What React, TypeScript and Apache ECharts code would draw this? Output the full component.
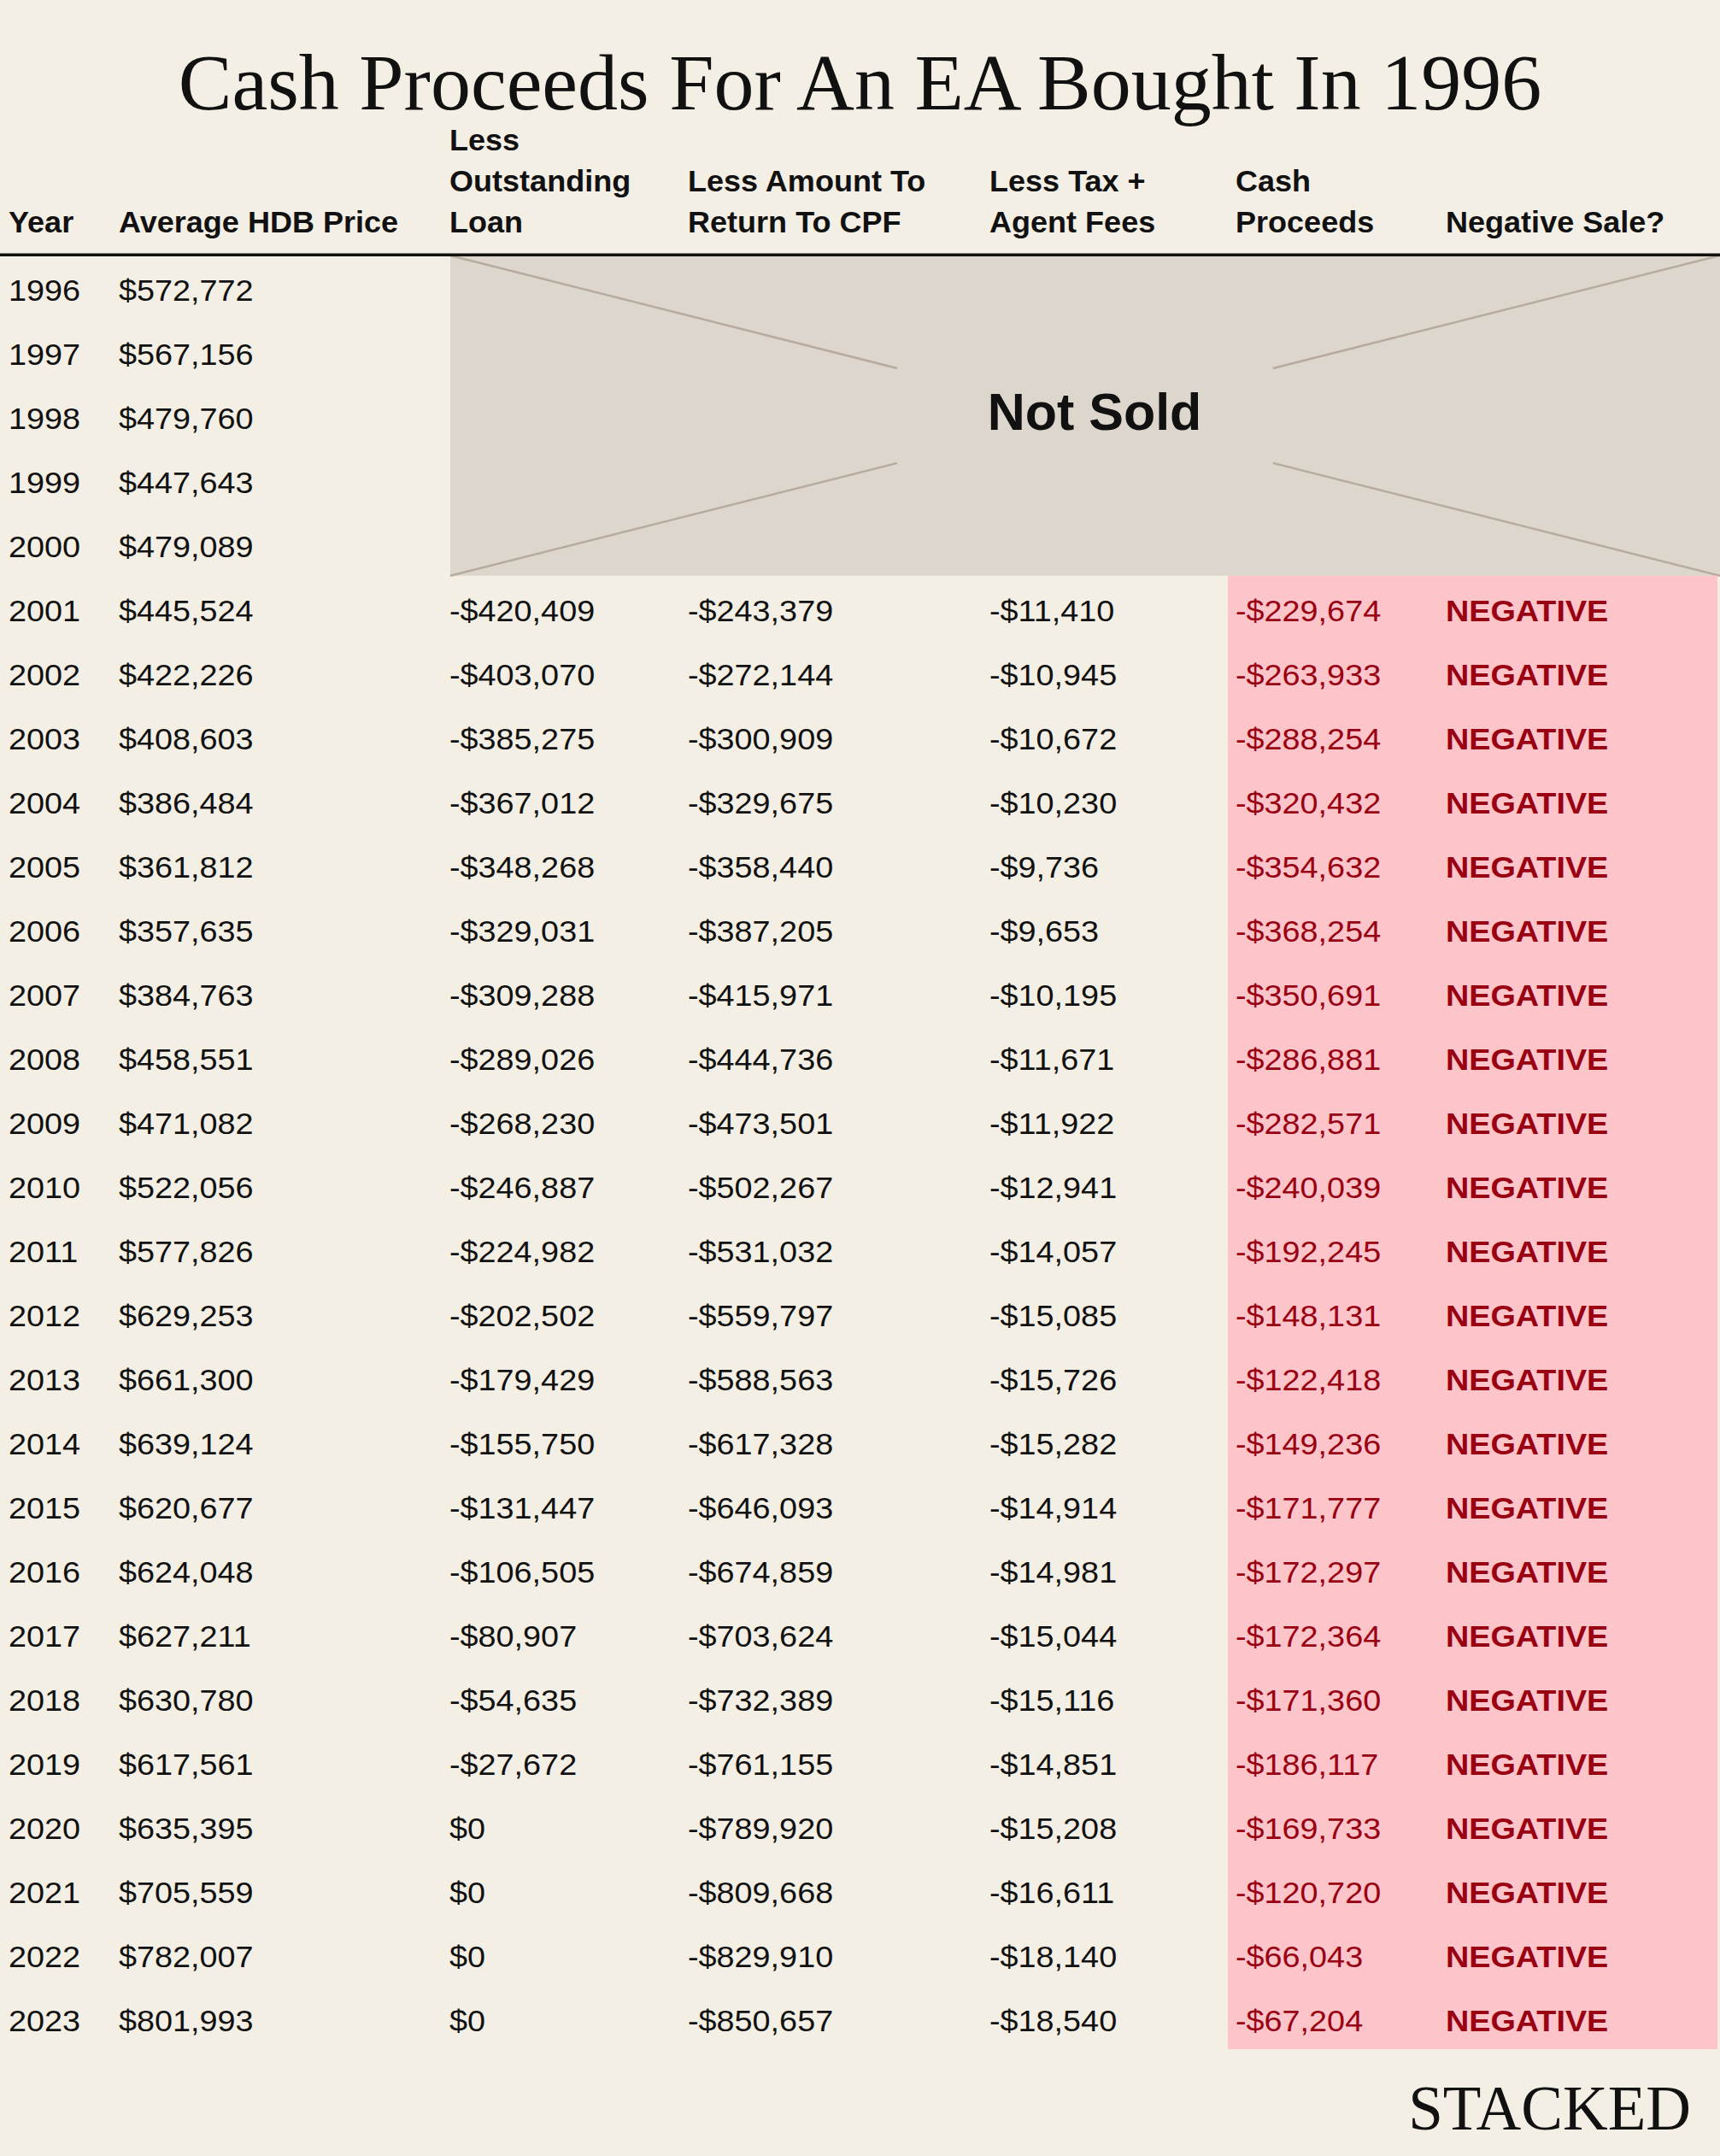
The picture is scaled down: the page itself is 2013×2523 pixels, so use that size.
import React, { useEffect, useRef } from 'react';
import * as echarts from 'echarts';

// ---------- data ----------
const years = ['1996','1997','1998','1999','2000','2001','2002','2003','2004','2005','2006','2007','2008','2009','2010','2011','2012','2013','2014','2015','2016','2017','2018','2019','2020','2021','2022','2023'];
const avgHdbPrice = [572772,567156,479760,447643,479089,445524,422226,408603,386484,361812,357635,384763,458551,471082,522056,577826,629253,661300,639124,620677,624048,627211,630780,617561,635395,705559,782007,801993];
// null = not sold in that year
const outstandingLoan = [null,null,null,null,null,-420409,-403070,-385275,-367012,-348268,-329031,-309288,-289026,-268230,-246887,-224982,-202502,-179429,-155750,-131447,-106505,-80907,-54635,-27672,0,0,0,0];
const returnToCpf = [null,null,null,null,null,-243379,-272144,-300909,-329675,-358440,-387205,-415971,-444736,-473501,-502267,-531032,-559797,-588563,-617328,-646093,-674859,-703624,-732389,-761155,-789920,-809668,-829910,-850657];
const taxAgentFees = [null,null,null,null,null,-11410,-10945,-10672,-10230,-9736,-9653,-10195,-11671,-11922,-12941,-14057,-15085,-15726,-15282,-14914,-14981,-15044,-15116,-14851,-15208,-16611,-18140,-18540];
const cashProceeds = [null,null,null,null,null,-229674,-263933,-288254,-320432,-354632,-368254,-350691,-286881,-282571,-240039,-192245,-148131,-122418,-149236,-171777,-172297,-172364,-171360,-186117,-169733,-120720,-66043,-67204];
const headerLabels = [['Year'], ['Average HDB Price'], ['Less', 'Outstanding', 'Loan'], ['Less Amount To', 'Return To CPF'], ['Less Tax +', 'Agent Fees'], ['Cash', 'Proceeds'], ['Negative Sale?']];
const TITLE = 'Cash Proceeds For An EA Bought In 1996';
const NOT_SOLD_LABEL = 'Not Sold';
const BRAND = 'STACKED';
// regions: [firstRowIndex, lastRowIndex]
const notSoldRows = [0, 4];
const soldRows = [5, 27];

// ---------- layout / style ----------
const W = 2013;
const H = 2523;
const COL_X = [10, 139, 526, 805, 1158, 1446, 1692];
const GRID_TOP = 299;
const GRID_BOTTOM = 2398;
const TEXT_DY = 4;
const BG = '#f4efe4';
const GRAY = '#ddd6cc';
const GRAY_LINE = '#b6ab9e';
const PINK = '#fdc4ca';
const RED = '#990012';
const INK = '#111111';
const SANS = '"Liberation Sans", Arial, sans-serif';
const SERIF = '"Liberation Serif", "Times New Roman", serif';
const DATA_SIZE = 35;
const DATA_STRETCH = 1.08;

const fmt = (v: number) => (v < 0 ? '-$' : '$') + String(Math.abs(v)).replace(/\B(?=(\d{3})+(?!\d))/g, ',');

export default function App() {
  const ref = useRef<HTMLDivElement>(null);

  useEffect(() => {
    if (!ref.current) return;
    const chart = echarts.init(ref.current, undefined, { renderer: 'svg', width: W, height: H });

    const headerGraphics: any[] = [];
    const baseLine3 = 273;
    const linePitch = 48;
    headerLabels.forEach((lines, c) => {
      const n = lines.length;
      lines.forEach((ln, k) => {
        const baseline = baseLine3 - (n - 1 - k) * linePitch;
        headerGraphics.push({
          type: 'text',
          x: COL_X[c],
          y: baseline - 12.5,
          z: 50,
          scaleX: 1.03,
          style: { text: ln, fill: INK, font: `bold 35px ${SANS}`, align: 'left', verticalAlign: 'middle' },
        });
      });
    });

    const option: any = {
      animation: false,
      backgroundColor: BG,
      grid: { left: 0, right: 0, top: GRID_TOP, bottom: H - GRID_BOTTOM, containLabel: false },
      xAxis: { type: 'value', min: 0, max: W, show: false },
      yAxis: { type: 'category', data: years, inverse: true, show: false },
      graphic: [
        {
          type: 'text', x: W / 2, y: 96, z: 50,
          style: { text: TITLE, fill: INK, font: `94px ${SERIF}`, align: 'center', verticalAlign: 'middle' },
        },
        ...headerGraphics,
        { type: 'rect', z: 60, shape: { x: 0, y: 296.5, width: W, height: 3.5 }, style: { fill: INK } },
        {
          type: 'text', x: 1979, y: 2467, z: 50,
          style: { text: BRAND, fill: INK, font: `73px ${SERIF}`, align: 'right', verticalAlign: 'middle' },
        },
      ],
      series: [
        {
          type: 'custom',
          name: 'regions',
          z: 1,
          clip: false,
          encode: { x: 0, y: [1, 2] },
          data: [[0, notSoldRows[0], notSoldRows[1]], [1, soldRows[0], soldRows[1]]],
          renderItem: (params: any, api: any) => {
            const kind = api.value(0);
            const s = api.value(1);
            const e = api.value(2);
            const band = api.coord([0, 1])[1] - api.coord([0, 0])[1];
            const top = api.coord([0, s])[1] - band / 2;
            const bot = api.coord([0, e])[1] + band / 2;
            if (kind === 0) {
              const x0 = api.coord([527, s])[0];
              const x1 = api.coord([W, s])[0];
              const g1 = 0.352, g2 = 0.648;
              const lx = (t: number) => x0 + (x1 - x0) * t;
              const ly = (t: number) => top + (bot - top) * t;
              const lyR = (t: number) => bot - (bot - top) * t;
              const ls = { stroke: GRAY_LINE, lineWidth: 2.5 };
              return {
                type: 'group',
                children: [
                  { type: 'rect', shape: { x: x0, y: top, width: x1 - x0, height: bot - top }, style: { fill: GRAY } },
                  { type: 'line', shape: { x1: lx(0), y1: ly(0), x2: lx(g1), y2: ly(g1) }, style: ls },
                  { type: 'line', shape: { x1: lx(g2), y1: ly(g2), x2: lx(1), y2: ly(1) }, style: ls },
                  { type: 'line', shape: { x1: lx(0), y1: lyR(0), x2: lx(g1), y2: lyR(g1) }, style: ls },
                  { type: 'line', shape: { x1: lx(g2), y1: lyR(g2), x2: lx(1), y2: lyR(1) }, style: ls },
                  {
                    type: 'text', x: 1281, y: (top + bot) / 2 - 4,
                    style: { text: NOT_SOLD_LABEL, fill: INK, font: `bold 61px ${SANS}`, align: 'center', verticalAlign: 'middle' },
                  },
                ],
              };
            }
            const x0 = api.coord([1437, s])[0];
            const x1 = api.coord([2010, s])[0];
            return {
              type: 'rect',
              shape: { x: x0, y: top, width: x1 - x0, height: bot - top },
              style: { fill: PINK },
            };
          },
        },
        {
          type: 'custom',
          name: 'rows',
          z: 2,
          clip: false,
          encode: { x: 0, y: 1 },
          data: years.map((_, i) => [0, i]),
          renderItem: (params: any, api: any) => {
            const i = api.value(1);
            const y = api.coord([0, i])[1] + TEXT_DY;
            const cx = (c: number) => api.coord([COL_X[c], i])[0];
            const cells: { c: number; text: string; color: string; bold?: boolean }[] = [
              { c: 0, text: years[i], color: INK },
              { c: 1, text: fmt(avgHdbPrice[i]), color: INK },
            ];
            const cash = cashProceeds[i];
            if (cash !== null) {
              cells.push({ c: 2, text: fmt(outstandingLoan[i] as number), color: INK });
              cells.push({ c: 3, text: fmt(returnToCpf[i] as number), color: INK });
              cells.push({ c: 4, text: fmt(taxAgentFees[i] as number), color: INK });
              cells.push({ c: 5, text: fmt(cash), color: RED });
              cells.push({ c: 6, text: cash < 0 ? 'NEGATIVE' : 'POSITIVE', color: RED, bold: true });
            }
            return {
              type: 'group',
              children: cells.map((cell) => ({
                type: 'text',
                x: cx(cell.c),
                y,
                scaleX: DATA_STRETCH,
                style: {
                  text: cell.text,
                  fill: cell.color,
                  font: `${cell.bold ? 'bold ' : ''}${DATA_SIZE}px ${SANS}`,
                  align: 'left',
                  verticalAlign: 'middle',
                },
              })),
            };
          },
        },
      ],
    };

    chart.setOption(option);
    return () => chart.dispose();
  }, []);

  return (
    <div
      ref={ref}
      style={{ position: 'fixed', left: 0, top: 0, width: W, height: H, background: BG }}
    />
  );
}
